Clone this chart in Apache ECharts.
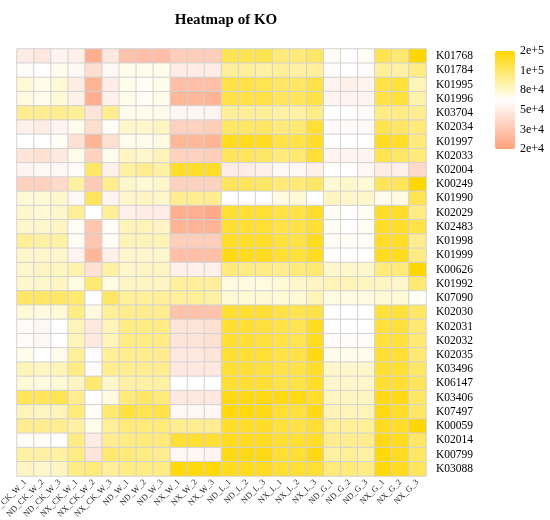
<!DOCTYPE html>
<html>
<head>
<meta charset="utf-8">
<title>Heatmap of KO</title>
<script src="https://cdn.jsdelivr.net/npm/echarts@6/dist/echarts.min.js"></script>
<style>
  html, body { margin: 0; padding: 0; background: #fff; }
  #chart { width: 550px; height: 520px; }
</style>
</head>
<body>
<div id="chart"></div>
<script>
// samples (columns)
const samples = ['ND_CK_W_1', 'ND_CK_W_2', 'ND_CK_W_3', 'NX_CK_W_1', 'NX_CK_W_2', 'NX_CK_W_3',
  'ND_W_1', 'ND_W_2', 'ND_W_3', 'NX_W_1', 'NX_W_2', 'NX_W_3',
  'ND_L_1', 'ND_L_2', 'ND_L_3', 'NX_L_1', 'NX_L_2', 'NX_L_3',
  'ND_G_1', 'ND_G_2', 'ND_G_3', 'NX_G_1', 'NX_G_2', 'NX_G_3'];

// KO ids (rows, top to bottom)
const kos = ['K01768', 'K01784', 'K01995', 'K01996', 'K03704', 'K02034', 'K01997', 'K02033',
  'K02004', 'K00249', 'K01990', 'K02029', 'K02483', 'K01998', 'K01999', 'K00626', 'K01992',
  'K07090', 'K02030', 'K02031', 'K02032', 'K02035', 'K03496', 'K06147', 'K03406', 'K07497',
  'K00059', 'K02014', 'K00799', 'K03088'];

// legend ticks (bottom to top), evenly spaced on the colour bar
const legendTicks = ['2e+4', '3e+4', '5e+4', '8e+4', '1e+5', '2e+5'];

// abundance read as position on the legend scale (0 = 2e+4 ... 5 = 2e+5), one row per KO
const koLevels = [
  [2.0, 1.9, 2.2, 2.1, 0.4, 1.9, 0.9, 0.8, 0.8, 1.2, 1.2, 1.2, 4.2, 4.2, 4.2, 3.8, 3.8, 4.0, 2.6, 2.5, 2.6, 4.2, 3.9, 5.0],
  [2.6, 2.5, 2.7, 2.3, 1.6, 2.3, 2.7, 2.7, 2.7, 2.0, 2.0, 2.0, 3.5, 3.5, 3.4, 3.5, 3.4, 3.5, 2.4, 2.5, 2.4, 3.5, 3.4, 3.7],
  [2.9, 2.7, 2.9, 2.0, 0.5, 2.0, 2.7, 2.6, 2.7, 0.8, 0.8, 0.8, 4.3, 4.3, 4.2, 4.0, 4.0, 4.3, 2.2, 2.1, 2.2, 4.3, 4.4, 3.2],
  [2.8, 2.7, 2.9, 2.1, 0.4, 2.1, 2.7, 2.6, 2.7, 0.6, 0.6, 0.5, 4.3, 4.3, 4.3, 4.1, 4.1, 4.3, 2.2, 2.2, 2.2, 4.3, 4.4, 3.3],
  [3.6, 3.6, 3.6, 3.5, 1.8, 3.6, 2.7, 2.7, 2.7, 2.3, 2.3, 2.2, 3.5, 3.5, 3.5, 3.4, 3.4, 3.7, 2.5, 2.5, 2.4, 3.7, 3.7, 3.6],
  [2.1, 2.0, 2.2, 2.7, 1.6, 2.6, 3.0, 3.0, 3.1, 1.3, 1.3, 1.2, 4.0, 4.0, 4.0, 3.8, 3.9, 4.5, 2.4, 2.4, 2.4, 4.2, 4.0, 3.8],
  [2.5, 2.5, 2.6, 1.7, 0.5, 1.7, 2.7, 2.7, 2.8, 0.6, 0.6, 0.5, 4.7, 4.7, 4.7, 4.3, 4.3, 4.6, 2.5, 2.5, 2.5, 4.7, 4.6, 3.8],
  [1.8, 1.7, 1.9, 2.7, 1.3, 2.7, 3.1, 3.0, 3.2, 1.3, 1.3, 1.2, 4.1, 4.1, 4.0, 3.8, 3.9, 4.5, 2.2, 2.2, 2.2, 4.2, 4.0, 3.8],
  [2.2, 2.3, 2.3, 2.4, 4.0, 2.1, 3.4, 3.6, 3.4, 4.6, 4.6, 4.6, 2.0, 2.0, 2.1, 2.3, 2.3, 2.1, 2.5, 2.5, 2.3, 2.0, 2.1, 1.5],
  [1.3, 1.3, 1.5, 3.4, 1.1, 3.6, 3.0, 2.9, 3.0, 1.3, 1.3, 1.3, 4.1, 4.1, 4.0, 3.8, 3.8, 4.0, 2.9, 3.0, 2.9, 4.1, 4.1, 5.0],
  [2.9, 2.9, 3.0, 2.3, 4.1, 2.2, 3.0, 3.1, 3.0, 3.6, 3.6, 3.6, 2.5, 2.5, 2.5, 2.8, 2.9, 2.5, 3.1, 3.0, 3.0, 2.7, 2.8, 4.2],
  [3.0, 2.9, 3.0, 3.5, 2.5, 3.5, 2.1, 2.0, 2.0, 0.4, 0.4, 0.2, 4.5, 4.5, 4.5, 4.3, 4.3, 4.6, 2.6, 2.5, 2.6, 4.6, 4.6, 3.7],
  [3.0, 3.0, 3.1, 2.6, 1.0, 2.6, 3.2, 3.2, 3.1, 0.5, 0.5, 0.5, 4.5, 4.5, 4.5, 4.3, 4.3, 4.5, 2.6, 2.5, 2.6, 4.6, 4.6, 4.3],
  [3.5, 3.4, 3.4, 2.6, 1.0, 2.6, 3.2, 3.2, 3.2, 1.2, 1.2, 1.2, 4.6, 4.6, 4.6, 4.4, 4.3, 4.7, 2.6, 2.6, 2.6, 4.6, 4.6, 3.6],
  [3.0, 3.0, 3.0, 2.2, 0.6, 2.1, 3.0, 3.0, 3.0, 0.8, 0.8, 0.8, 4.8, 4.7, 4.7, 4.5, 4.4, 4.7, 2.5, 2.5, 2.5, 4.7, 4.7, 3.7],
  [3.0, 3.1, 3.1, 3.3, 1.7, 3.4, 3.0, 3.1, 3.1, 2.1, 2.1, 2.1, 3.8, 3.7, 3.7, 3.6, 3.8, 3.9, 3.0, 3.0, 3.0, 3.8, 3.8, 5.0],
  [3.0, 3.0, 3.1, 2.8, 3.9, 2.8, 3.1, 3.1, 3.1, 3.5, 3.5, 3.5, 2.8, 2.8, 2.8, 2.9, 3.0, 3.1, 3.2, 3.2, 3.1, 3.1, 3.0, 3.9],
  [4.0, 4.0, 4.0, 3.9, 2.5, 4.0, 3.5, 3.5, 3.5, 3.5, 3.5, 3.4, 2.9, 2.9, 2.9, 2.9, 2.9, 3.2, 2.8, 2.8, 2.8, 2.9, 2.9, 2.6],
  [2.9, 2.8, 2.9, 3.7, 2.8, 3.5, 3.6, 3.6, 3.6, 0.9, 0.9, 0.9, 4.5, 4.5, 4.5, 4.3, 4.2, 4.3, 2.5, 2.5, 2.5, 4.4, 4.4, 4.0],
  [2.4, 2.3, 2.5, 3.2, 1.9, 3.2, 3.7, 3.7, 3.7, 1.8, 1.8, 1.7, 4.5, 4.5, 4.4, 4.3, 4.2, 4.7, 2.5, 2.5, 2.5, 4.4, 4.4, 3.9],
  [2.4, 2.3, 2.5, 3.2, 1.9, 3.2, 3.7, 3.7, 3.7, 1.8, 1.8, 1.7, 4.5, 4.5, 4.4, 4.3, 4.2, 4.7, 2.4, 2.4, 2.4, 4.4, 4.4, 3.9],
  [2.7, 2.5, 2.7, 3.5, 2.4, 3.5, 3.6, 3.6, 3.6, 1.9, 1.9, 1.8, 4.5, 4.5, 4.5, 4.3, 4.3, 4.8, 2.7, 2.7, 2.7, 4.5, 4.5, 3.9],
  [3.2, 3.1, 3.2, 3.7, 2.4, 3.6, 3.6, 3.6, 3.6, 1.9, 1.9, 1.9, 4.5, 4.5, 4.4, 4.3, 4.3, 4.6, 3.0, 3.0, 3.0, 4.5, 4.5, 4.0],
  [2.9, 2.8, 2.9, 3.1, 3.9, 3.0, 3.4, 3.4, 3.4, 2.5, 2.5, 2.5, 4.5, 4.5, 4.5, 4.3, 4.3, 4.6, 3.0, 3.0, 3.0, 4.5, 4.5, 4.1],
  [4.1, 4.1, 4.2, 3.6, 2.5, 2.8, 3.8, 4.0, 3.8, 1.9, 1.9, 1.9, 4.8, 4.8, 4.8, 4.8, 4.8, 4.6, 3.1, 3.1, 3.1, 4.8, 4.8, 4.0],
  [3.2, 3.1, 3.2, 3.8, 2.6, 3.9, 4.4, 4.2, 4.3, 2.3, 2.3, 2.3, 4.9, 4.9, 4.8, 4.5, 4.4, 4.8, 3.2, 3.2, 3.2, 4.8, 4.6, 4.0],
  [3.6, 3.6, 3.6, 3.4, 2.7, 3.5, 3.8, 3.8, 3.8, 3.6, 3.6, 3.6, 4.6, 4.6, 4.6, 4.4, 4.3, 4.5, 3.5, 3.5, 3.5, 4.7, 4.6, 5.0],
  [2.6, 2.6, 2.5, 3.7, 2.0, 3.6, 3.7, 3.8, 3.8, 4.5, 4.5, 4.5, 4.7, 4.7, 4.7, 4.5, 4.5, 4.6, 3.6, 3.6, 3.6, 4.8, 4.7, 4.0],
  [3.4, 3.4, 3.4, 3.7, 1.8, 3.9, 3.8, 3.7, 3.6, 2.3, 2.3, 2.2, 4.8, 4.8, 4.8, 4.5, 4.5, 4.8, 3.4, 3.5, 3.4, 4.9, 4.7, 4.0],
  [3.1, 3.0, 3.1, 3.7, 3.8, 3.5, 3.7, 3.7, 3.7, 4.9, 4.9, 4.9, 4.7, 4.7, 4.7, 4.5, 4.5, 4.5, 3.8, 3.8, 3.7, 4.9, 4.7, 4.1]
];

const FONT = 'Liberation Serif';

const cells = [];
koLevels.forEach((row, y) => row.forEach((v, x) => cells.push([x, y, v])));

const chart = echarts.init(document.getElementById('chart'));

chart.setOption({
  backgroundColor: '#fff',
  animation: false,
  title: {
    text: 'Heatmap of KO',
    left: 221,
    top: 8,
    textAlign: 'center',
    textStyle: { fontFamily: FONT, fontWeight: 'bold', fontSize: 15, color: '#000' }
  },
  grid: [
    { left: 17, top: 49, width: 409, height: 427, outerBoundsMode: 'none', containLabel: false },
    // colour bar axis
    { left: 495, top: 50.7, width: 20, height: 98.6, outerBoundsMode: 'none', containLabel: false }
  ],
  xAxis: [
    {
      type: 'category',
      data: samples,
      gridIndex: 0,
      axisLine: { show: false },
      axisTick: { show: false },
      splitArea: { show: false },
      axisLabel: {
        interval: 0,
        rotate: 45,
        margin: 5,
        fontFamily: FONT,
        fontSize: 8.5,
        color: '#222'
      }
    },
    { type: 'value', gridIndex: 1, show: false, min: 0, max: 1 }
  ],
  yAxis: [
    {
      type: 'category',
      data: kos,
      gridIndex: 0,
      inverse: true,
      position: 'right',
      axisLine: { show: false },
      axisTick: { show: false },
      axisLabel: {
        interval: 0,
        margin: 10,
        fontFamily: FONT,
        fontSize: 11.5,
        color: '#000'
      }
    },
    {
      type: 'value',
      gridIndex: 1,
      position: 'right',
      min: 0,
      max: 5,
      interval: 1,
      axisLine: { show: false },
      axisTick: { show: false },
      splitLine: { show: false },
      axisLabel: {
        margin: 5,
        fontFamily: FONT,
        fontSize: 12,
        color: '#000',
        formatter: (v) => legendTicks[v]
      }
    }
  ],
  visualMap: {
    type: 'continuous',
    seriesIndex: 0,
    min: 0,
    max: 5,
    orient: 'vertical',
    left: 495,
    top: 50.7,
    padding: 0,
    itemWidth: 20,
    itemHeight: 98.6,
    calculable: false,
    hoverLink: false,
    inRange: { color: ['#FFA07A', '#FFFFFF', '#FFD700'] }
  },
  series: [{
    type: 'heatmap',
    xAxisIndex: 0,
    yAxisIndex: 0,
    data: cells,
    itemStyle: { borderColor: '#d2d2d2', borderWidth: 1 },
    emphasis: { disabled: true }
  }]
});
</script>
</body>
</html>
